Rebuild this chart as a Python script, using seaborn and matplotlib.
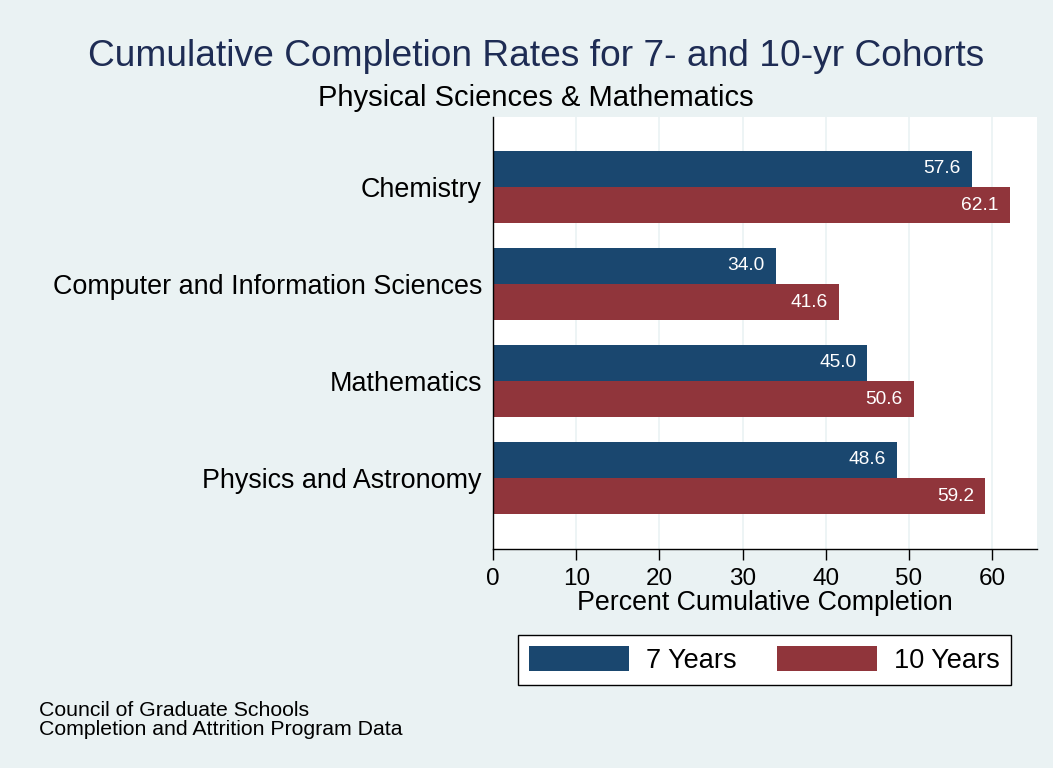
import matplotlib
matplotlib.use("Agg")
import matplotlib.pyplot as plt
import seaborn as sns
import pandas as pd

fields = ["Chemistry", "Computer and Information Sciences", "Mathematics", "Physics and Astronomy"]
years7 = [57.6, 34.0, 45.0, 48.6]
years10 = [62.1, 41.6, 50.6, 59.2]
series = ["7 Years", "10 Years"]
xticks = [0, 10, 20, 30, 40, 50, 60]

df = pd.DataFrame({
    "field": fields * 2,
    "value": years7 + years10,
    "cohort": [series[0]] * len(fields) + [series[1]] * len(fields),
})

sns.set_theme(style="white")
plt.rcParams["font.family"] = ["Liberation Sans", "DejaVu Sans"]

bg = "#EAF2F3"
fig = plt.figure(figsize=(10.53, 7.68), dpi=100, facecolor=bg)
ax = fig.add_axes([0.4682, 0.2852, 0.5166, 0.5625])
ax.set_facecolor("white")

palette = {"7 Years": "#1A476F", "10 Years": "#90353B"}
sns.barplot(data=df, y="field", x="value", hue="cohort", order=fields,
            hue_order=series, palette=palette, orient="h", width=0.75,
            saturation=1, ax=ax, legend=True, edgecolor="none")

for cont in ax.containers:
    for patch, v in zip(cont.patches, cont.datavalues):
        yc = patch.get_y() + patch.get_height() / 2
        ax.annotate(f"{v:.1f}", xy=(patch.get_x() + patch.get_width(), yc),
                    xytext=(-8, 0), textcoords="offset points",
                    ha="right", va="center", color="white", fontsize=13.8)

ax.set_xlim(0, 65.4)
ax.set_ylim(3.732, -0.722)
ax.set_xticks(xticks)
ax.set_xticklabels([str(t) for t in xticks], fontsize=17.5, color="black")
ax.tick_params(axis="x", length=8, width=1, color="black", pad=6, direction="out", bottom=True)
ax.tick_params(axis="y", length=0, pad=8, labelsize=19.35, labelcolor="black")
ax.xaxis.grid(True, color=bg, linewidth=1.2)
ax.set_axisbelow(True)
for s in ["top", "right"]:
    ax.spines[s].set_visible(False)
for s in ["left", "bottom"]:
    ax.spines[s].set_color("black")
    ax.spines[s].set_linewidth(1)
ax.set_ylabel("")
ax.set_xlabel("Percent Cumulative Completion", fontsize=19.3, labelpad=0, color="black")

leg = ax.get_legend()
handles, labels = ax.get_legend_handles_labels()
leg.remove()
lg = fig.legend(handles, labels, loc="center", bbox_to_anchor=(0.726, 0.1406), ncol=2,
                fontsize=19.5, frameon=True, fancybox=False, edgecolor="black",
                facecolor="white", handlelength=3.7, handleheight=1.0,
                columnspacing=1.5, handletextpad=0.63, borderpad=0.4, framealpha=1)
for t in lg.get_texts():
    t.set_color("black")

fig.text(0.509, 0.927, "Cumulative Completion Rates for 7- and 10-yr Cohorts",
         ha="center", va="center", fontsize=26.7, color="#1E2C54")
fig.text(0.509, 0.872, "Physical Sciences & Mathematics",
         ha="center", va="center", fontsize=21, color="black")
fig.text(0.037, 0.0625, "Council of Graduate Schools\nCompletion and Attrition Program Data",
         ha="left", va="center", fontsize=15.3, linespacing=1.02, color="black")

fig.savefig("out.png", dpi=100, facecolor=bg)
